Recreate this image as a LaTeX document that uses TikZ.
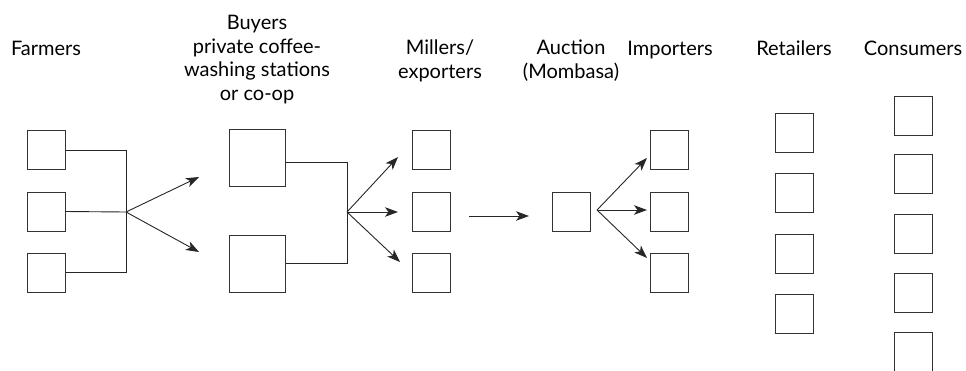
\documentclass[tikz,border=0pt]{standalone}
\usepackage{fontspec}
\setmainfont{Lato}
\usetikzlibrary{arrows.meta,calc}
\begin{document}
\begin{tikzpicture}[x=1pt,y=-1pt,
  box/.style={draw=black!80,line width=1pt,inner sep=0pt,minimum width=38pt,minimum height=39pt},
  bigbox/.style={box,minimum width=56pt,minimum height=57pt},
  wire/.style={draw=black!85,line width=0.9pt},
  flow/.style={wire,-{Stealth[length=13pt,width=9.5pt,inset=3.5pt]}},
  lab/.style={font=\fontsize{20}{23.5}\selectfont,align=center,inner sep=0pt,anchor=base}]
\useasboundingbox (0,0) rectangle (966,370);

% column headings (anchored at the baseline of the last line)
\node[lab] (tfarm) at (46,55) {Farmers};
\node[lab] (tbuy)  at (257,100) {Buyers\\private coffee-\\washing stations\\or co-op};
\node[lab] (tmill) at (440,78) {Millers/\\exporters};
\node[lab] (tauc)  at (571,78) {Auction\\(Mombasa)};
\node[lab] (timp)  at (670,55) {Importers};
\node[lab] (tret)  at (794,55) {Retailers};
\node[lab] (tcon)  at (913,55) {Consumers};

% farmers
\node[box] (f1) at (46,150) {};
\node[box] (f2) at (46,211.5) {};
\node[box] (f3) at (46,272.5) {};
% buyers
\node[bigbox] (b1) at (257,157.5) {};
\node[bigbox] (b2) at (257,263.5) {};
% millers / exporters
\node[box] (m1) at (431,150) {};
\node[box] (m2) at (431,211.5) {};
\node[box] (m3) at (431,272.5) {};
% auction
\node[box] (a) at (571.5,211.5) {};
% importers
\node[box] (i1) at (669.5,150) {};
\node[box] (i2) at (669.5,212) {};
\node[box] (i3) at (669.5,272.5) {};
% retailers
\node[box] (r1) at (794,133) {};
\node[box] (r2) at (794,193) {};
\node[box] (r3) at (794,254) {};
\node[box] (r4) at (794,314) {};
% consumers
\node[box] (c1) at (913.5,116) {};
\node[box] (c2) at (913.5,174) {};
\node[box] (c3) at (913.5,234) {};
\node[box] (c4) at (913.5,293) {};
\node[box] (c5) at (913.5,352) {};

% junction points and free arrow ends
\coordinate (fh) at (126,212);
\coordinate (bh) at (347,212);
\coordinate (ah) at (597,210);
\coordinate (fa1) at (199,177);
\coordinate (fa2) at (199,252);
\coordinate (ba1) at (398,157);
\coordinate (ba2) at (398,212);
\coordinate (ba3) at (400,262);
\coordinate (ma) at (469,216);
\coordinate (mb) at (529,216);
\coordinate (aa1) at (647,158);
\coordinate (aa2) at (647,210);
\coordinate (aa3) at (647,258);

% farmers to buyers
\draw[wire] (f1.east) -| (fh);
\draw[wire] (f3.east) -| (fh);
\draw[wire] (f2.east) -- (fh);
\draw[flow] (fh) -- (fa1);
\draw[flow] (fh) -- (fa2);

% buyers to millers
\draw[wire] ([yshift=-5pt]b1.east) -| (bh);
\draw[wire] (b2.east) -| (bh);
\draw[flow] (bh) -- (ba1);
\draw[flow] (bh) -- (ba2);
\draw[flow] (bh) -- (ba3);

% millers to auction
\draw[flow] (ma) -- (mb);

% auction to importers
\draw[flow] (ah) -- (aa1);
\draw[flow] (ah) -- (aa2);
\draw[flow] (ah) -- (aa3);
\end{tikzpicture}
\end{document}
